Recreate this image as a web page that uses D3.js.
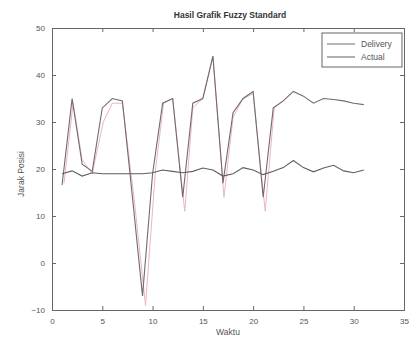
<!DOCTYPE html>
<html>
<head>
<meta charset="utf-8">
<script src="https://cdn.jsdelivr.net/npm/d3@7"></script>
<style>
  body { margin: 0; background: #fff; }
  text { font-family: "Liberation Sans", Arial, sans-serif; fill: #555; }
</style>
</head>
<body>
<div id="mydiv"></div>
<script>
// time steps
var waktu = [1,2,3,4,5,6,7,8,9,10,11,12,13,14,15,16,17,18,19,20,21,22,23,24,25,26,27,28,29,30,31];
// oscillating series (legend: Delivery)
var delivery = [16.6,35,21,19.5,33,35,34.5,14,-7,19,34,35,14,34,35,44,17,32,35,36.5,14,33,34.5,36.5,35.5,34,35,34.8,34.5,34,33.7];
// flat series (legend: Actual)
var actual = [19,19.6,18.5,19.2,19,19,19,19,19,19.2,19.8,19.5,19.2,19.5,20.2,19.8,18.5,19,20.3,19.8,18.8,19.5,20.3,21.8,20.3,19.4,20.2,20.8,19.6,19.2,19.8];
// faint red trace next to the oscillating line
var redX = [1.2,2.1,3,4,5.1,6,7,8.2,9.3,10.3,11.1,12,13.2,14,15,16,17.1,18,19,20,21.2,22.1,23];
var redY = [17,34,22,19,30,34,34,13,-9,20,34,35,11,33,35,44,14,31,35,36,11,33,34.5];

var xTicks = [0,5,10,15,20,25,30,35];
var yTicks = [-10,0,10,20,30,40,50];
var legendNames = ["Delivery", "Actual"];

var W = 409, H = 339;
var margin = {top: 28, right: 5, bottom: 29, left: 52};
var width = W - margin.left - margin.right,
    height = H - margin.top - margin.bottom;

var svg = d3.select("#mydiv").append("svg")
  .attr("width", W)
  .attr("height", H)
  .style("background-color", "white");

var g = svg.append("g")
  .attr("transform", "translate(" + margin.left + "," + margin.top + ")");

var x = d3.scaleLinear().domain([0, 35]).range([0, width]);
var y = d3.scaleLinear().domain([-10, 50]).range([height, 0]);

var axisColor = "#666";

// axes with inward ticks (matlab style box)
var axBottom = g.append("g").attr("transform", "translate(0," + height + ")")
  .call(d3.axisBottom(x).tickValues(xTicks).tickSize(-4).tickPadding(8));
var axTop = g.append("g")
  .call(d3.axisTop(x).tickValues(xTicks).tickSize(-4).tickFormat(""));
var axLeft = g.append("g")
  .call(d3.axisLeft(y).tickValues(yTicks).tickSize(-4).tickPadding(7));
var axRight = g.append("g").attr("transform", "translate(" + width + ",0)")
  .call(d3.axisRight(y).tickValues(yTicks).tickSize(-4).tickFormat(""));

[axBottom, axTop, axLeft, axRight].forEach(function(a) {
  a.selectAll("path").style("stroke", axisColor);
  a.selectAll("line").style("stroke", axisColor);
  a.selectAll("text").style("fill", "#555").style("font-size", "8px")
    .style("font-family", "Liberation Sans, Arial, sans-serif");
});

var line = d3.line()
  .x(function(d) { return x(d[0]); })
  .y(function(d) { return y(d[1]); });

g.append("clipPath").attr("id", "clip")
  .append("rect").attr("width", width).attr("height", height);

var plot = g.append("g").attr("clip-path", "url(#clip)");

plot.append("path")
  .datum(redX.map(function(d, i) { return [d, redY[i]]; }))
  .attr("d", line)
  .attr("fill", "none")
  .attr("stroke", "#eeb5bd")
  .attr("stroke-width", 1);

plot.append("path")
  .datum(waktu.map(function(d, i) { return [d, delivery[i]]; }))
  .attr("d", line)
  .attr("fill", "none")
  .attr("stroke", "#716a6d")
  .attr("stroke-width", 1.1);

plot.append("path")
  .datum(waktu.map(function(d, i) { return [d, actual[i]]; }))
  .attr("d", line)
  .attr("fill", "none")
  .attr("stroke", "#5e5e5e")
  .attr("stroke-width", 1.1);

// legend
var lg = g.append("g").attr("transform", "translate(" + (width - 82) + ",5)");
lg.append("rect")
  .attr("width", 80).attr("height", 34)
  .attr("fill", "white").attr("stroke", axisColor);
legendNames.forEach(function(name, i) {
  lg.append("line")
    .attr("x1", 5).attr("x2", 33)
    .attr("y1", 11 + i * 13).attr("y2", 11 + i * 13)
    .attr("stroke", i == 0 ? "#716a6d" : "#5e5e5e");
  lg.append("text")
    .attr("x", 39).attr("y", 14 + i * 13)
    .style("font-size", "8.5px")
    .text(name);
});

// title and labels
svg.append("text")
  .attr("x", margin.left + width / 2 + 2).attr("y", 18)
  .attr("text-anchor", "middle")
  .style("font-size", "8.5px").style("font-weight", "bold").style("fill", "#333")
  .text("Hasil Grafik Fuzzy Standard");

svg.append("text")
  .attr("x", 228).attr("y", 335)
  .attr("text-anchor", "middle")
  .style("font-size", "8.5px")
  .text("Waktu");

svg.append("text")
  .attr("transform", "translate(24," + (margin.top + height / 2 + 5) + ") rotate(-90)")
  .attr("text-anchor", "middle")
  .style("font-size", "8.5px")
  .text("Jarak Posisi");
</script>
</body>
</html>
